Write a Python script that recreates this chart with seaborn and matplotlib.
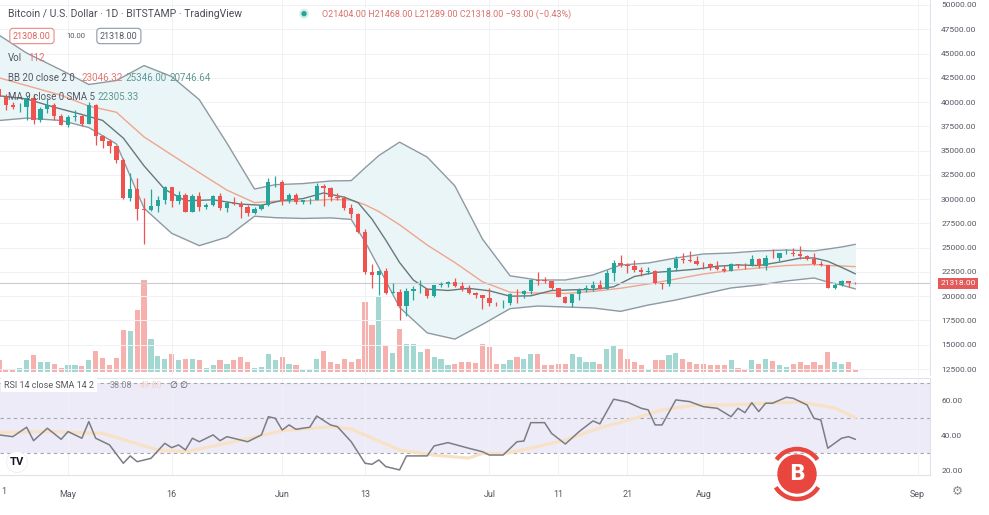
import numpy as np
import pandas as pd
import matplotlib.pyplot as plt
import matplotlib.transforms as mtransforms
import matplotlib.patheffects as pe
from matplotlib.patches import Circle, Arc
from matplotlib.ticker import FormatStrFormatter
import seaborn as sns

# BTC/USD daily candles (BITSTAMP), 21 Apr - 23 Aug 2022
dates = pd.date_range('2022-04-21', '2022-08-23', freq='D')

opens = [41370, 40480, 39710, 39450, 39470, 40440, 38120, 39240, 39740, 38600,
         37640, 38470, 38530, 37720, 39690, 36550, 36010, 35470, 34060, 30100,
         31020, 28940, 28900, 29290, 29860, 31300, 29850, 30420, 28720, 30290,
         29170, 29430, 30290, 29100, 29650, 29540, 29200, 28620, 29020, 29440,
         31730, 31790, 29800, 30450, 29700, 29860, 29910, 31370, 31120, 30200,
         30110, 29090, 28420, 26570, 22490, 22210, 22570, 20380, 20470, 19000,
         20550, 20700, 20720, 19990, 21110, 21230, 21500, 21030, 20730, 20280,
         20100, 19780, 19300, 19250, 19300, 20220, 20190, 20550, 21640, 21600,
         21580, 20850, 19960, 19330, 20230, 20590, 20830, 21200, 20790, 22420,
         23400, 23230, 23160, 22680, 22450, 22580, 21310, 21250, 22950, 23840,
         23780, 23640, 23300, 23270, 22990, 22820, 22620, 23310, 23260, 23170,
         23810, 23160, 23950, 23940, 24400, 24440, 24300, 24100, 23850, 23340,
         23190, 20830, 21140, 21520, 21404]
highs = [42970, 40800, 39990, 39900, 40600, 40800, 39450, 40350, 39900, 38800,
         38680, 39150, 38640, 40000, 39850, 36650, 36150, 35500, 34250, 32650,
         32200, 30100, 31000, 30300, 31400, 31300, 30800, 30650, 30500, 30700,
         29600, 30450, 30650, 29800, 30200, 29850, 29350, 29150, 29500, 32200,
         32400, 31950, 30650, 30650, 29950, 30150, 31700, 31570, 31300, 30650,
         30350, 29450, 28550, 26880, 23350, 22750, 22950, 21350, 20700, 20800,
         21050, 21700, 20860, 21200, 21500, 21600, 21850, 21500, 21200, 20400,
         20150, 20850, 19450, 19650, 20350, 20700, 20650, 21800, 22450, 21950,
         21600, 20850, 20050, 20250, 20880, 21200, 21550, 21650, 22700, 23750,
         24250, 23400, 23750, 22990, 23000, 22650, 21350, 23050, 24150, 24400,
         24650, 24150, 23500, 23450, 23650, 23200, 23450, 23350, 23450, 24200,
         23900, 24200, 24900, 24450, 24900, 25000, 25200, 24250, 24450, 23600,
         23200, 21350, 21700, 21550, 21468]
lows = [39770, 39200, 39300, 39000, 38200, 37700, 37900, 38900, 38200, 37600,
        37400, 38050, 37500, 37700, 35600, 35300, 34800, 33700, 30000, 29800,
        27900, 25400, 28800, 28700, 29500, 29200, 29500, 28700, 28700, 28800,
        28950, 29250, 28850, 28650, 29400, 28050, 28250, 28500, 28850, 29300,
        31200, 29400, 29600, 29500, 29450, 29500, 29880, 29250, 29850, 29950,
        28850, 28100, 26550, 22300, 20850, 20100, 20250, 20300, 17600, 18000,
        19650, 20350, 19800, 19900, 20900, 20950, 20950, 20550, 20200, 19850,
        18650, 19000, 19000, 18800, 19050, 19300, 19800, 20250, 21200, 21350,
        20650, 19900, 19250, 18900, 19650, 20400, 20500, 20750, 20760, 21600,
        23000, 22350, 22500, 22100, 22300, 21300, 20750, 21050, 22600, 23450,
        23550, 23250, 22850, 22650, 22700, 22450, 22600, 22950, 22850, 23150,
        22900, 22700, 23900, 23600, 24300, 24150, 23800, 23700, 23200, 23100,
        20800, 20750, 21050, 20900, 21289]
closes = [40480, 39710, 39450, 39470, 40440, 38120, 39240, 39740, 38600, 37640,
          38470, 38530, 37720, 39690, 36550, 36010, 35470, 34060, 30100, 31020,
          28940, 28900, 29290, 29860, 31300, 29850, 30420, 28720, 30290, 29170,
          29430, 30290, 29100, 29650, 29540, 29200, 28620, 29020, 29440, 31730,
          31790, 29800, 30450, 29700, 29860, 29910, 31370, 31120, 30200, 30110,
          29090, 28420, 26570, 22490, 22210, 22570, 20380, 20470, 19000, 20550,
          20700, 20720, 19990, 21110, 21230, 21500, 21030, 20730, 20280, 20100,
          19780, 19300, 19250, 19300, 20220, 20190, 20550, 21640, 21600, 21580,
          20850, 19960, 19330, 20230, 20590, 20830, 21200, 20790, 22420, 23400,
          23230, 23160, 22680, 22450, 22580, 21310, 21250, 22950, 23840, 23780,
          23640, 23300, 23270, 22990, 22820, 22620, 23310, 23260, 23170, 23810,
          23160, 23950, 23940, 24400, 24440, 24300, 24100, 23850, 23340, 23190,
          20830, 21140, 21520, 21400, 21318]
volumes = [490, 140, 112, 168, 518, 700, 420, 420, 350, 182,
           280, 308, 252, 518, 868, 588, 308, 602, 1778, 1722,
           2590, 3850, 1400, 658, 560, 770, 490, 560, 560, 490,
           168, 308, 490, 350, 490, 630, 420, 168, 210, 770,
           490, 630, 350, 280, 112, 140, 560, 868, 420, 350,
           532, 420, 560, 2940, 1960, 3150, 1120, 798, 1820, 1190,
           1190, 840, 980, 630, 560, 280, 350, 420, 420, 392,
           1190, 1050, 350, 350, 490, 630, 560, 770, 770, 308,
           280, 350, 350, 770, 630, 420, 420, 350, 980, 1092,
           980, 560, 420, 280, 140, 490, 490, 700, 812, 560,
           420, 350, 350, 308, 280, 308, 490, 168, 140, 490,
           350, 532, 448, 280, 210, 350, 420, 280, 420, 280,
           840, 420, 350, 420, 112]

# Bollinger bands (20, 2) read at anchor days (day 0 = 21 Apr)
bb_days = [0, 4, 9, 13, 17, 21, 25, 29, 33, 37, 40, 44, 48, 51, 53, 55, 58, 62, 66,
           70, 74, 78, 82, 86, 90, 94, 98, 102, 106, 110, 114, 118, 120, 122, 124]
bb_upper = [46900, 45050, 43300, 41810, 42220, 43760, 42630, 40250, 35770, 31040,
            31490, 31600, 31870, 31910, 33220, 34490, 35870, 34330, 31370, 25890,
            22100, 21670, 21670, 22190, 23210, 23420, 23940, 24350, 24450, 24660,
            24760, 24660, 24860, 25070, 25346]
bb_basis = [42500, 41700, 40700, 39590, 38950, 36410, 34560, 32730, 30930, 29640,
            29790, 29800, 29970, 29910, 29420, 28720, 27360, 25270, 23470, 21490,
            20410, 20330, 20280, 20490, 20820, 21260, 21770, 22290, 22650, 22910,
            23160, 23270, 23160, 23110, 23046]
bb_lower = [38100, 38350, 38100, 37380, 35680, 29060, 26480, 25210, 26080, 28240,
            28090, 28010, 28070, 27910, 25620, 22960, 18850, 16220, 15580, 17100,
            18720, 18990, 18890, 18790, 18440, 19090, 19610, 20230, 20850, 21150,
            21570, 21880, 21460, 21150, 20747]

# MA 9
ma_days = [0, 4, 8, 12, 15, 18, 21, 24, 27, 31, 35, 38, 41, 44, 47, 50, 52, 54, 56, 58,
           60, 62, 65, 68, 71, 74, 77, 80, 83, 86, 89, 92, 95, 98, 101, 104, 107,
           110, 113, 116, 118, 120, 122, 124]
ma_vals = [40650, 40320, 39470, 38720, 38110, 36290, 33430, 31010, 29830, 29930,
           29490, 29370, 29870, 30050, 30640, 30200, 29630, 27950, 25780, 23470,
           21660, 20730, 20590, 20810, 20560, 20000, 20040, 20580, 20660, 20690,
           20970, 22030, 22450, 22610, 22790, 23090, 23220, 23160, 23510, 23920,
           23940, 23600, 22970, 22305]

# RSI 14 and its SMA 14
rsi_days = [0, 2, 4, 5, 7, 9, 10, 12, 13, 14, 16, 18, 19, 20, 22, 24, 25, 26, 27, 28,
            29, 31, 32, 33, 36, 38, 39, 40, 41, 42, 43, 45, 46, 48, 49, 51, 53, 54, 55, 56,
            58, 59, 62, 63, 65, 68, 70, 71, 73, 75, 76, 77, 79, 80, 82, 84, 86, 87, 89, 91,
            93, 94, 95, 96, 98, 100, 102, 104, 106, 107, 108, 109, 110, 111, 112, 114, 115,
            117, 118, 119, 120, 122, 123, 124]
rsi_vals = [40.6, 39.6, 45.0, 37.3, 44.4, 38.1, 42.5, 38.7, 48.2, 38.7,
            34.9, 24.4, 28.6, 25.3, 27.2, 35.8, 33.3, 34.9, 32.0, 38.7,
            36.7, 40.6, 37.3, 39.6, 36.7, 40.6, 51.0, 50.1, 43.4, 46.3,
            43.8, 45.0, 51.4, 46.3, 45.3, 36.7, 24.4, 23.8, 26.3, 22.5,
            20.6, 28.6, 28.6, 34.3, 36.2, 33.0, 31.0, 29.1, 29.1, 36.7,
            37.1, 47.6, 47.6, 41.5, 35.4, 42.5, 48.6, 46.9, 61.0, 59.3,
            55.8, 54.9, 46.3, 46.3, 60.6, 59.6, 56.7, 55.8, 51.0, 55.8,
            53.3, 59.0, 53.9, 58.7, 58.7, 62.1, 61.5, 57.7, 50.1, 49.1,
            33.0, 38.7, 39.6, 38.08]
rsi_ma_days = [0, 7, 15, 23, 27, 34, 41, 48, 51, 58, 63, 68, 70, 73, 77, 82, 87, 92,
               96, 101, 106, 111, 116, 121, 124]
rsi_ma_vals = [42.0, 42.5, 41.5, 32.0, 31.0, 36.7, 43.0, 45.3, 44.0, 32.0, 29.0, 27.4,
               30.0, 30.0, 33.0, 37.7, 44.6, 50.0, 54.9, 57.7, 57.7, 58.7, 59.4, 56.0, 50.5]

tick_days = [10, 25, 41, 53, 71, 81, 91, 102, 133]
tick_labels = ['May', '16', 'Jun', '13', 'Jul', '11', '21', 'Aug', 'Sep']
last_price = 21318

# style
sns.set_theme(style='white')
plt.rcParams['font.family'] = ['Roboto', 'DejaVu Sans']
UP, DOWN = '#26a69a', '#ef5350'
TXT = '#555861'
GRID = '#f0f2f6'
SEP = '#e0e3eb'

W, H = 989, 515
fig = plt.figure(figsize=(W / 100, H / 100), dpi=100)


def fx(px):
    return px / W


def fy(py):
    return 1 - py / H


ax = fig.add_axes([0, fy(375), fx(930), 375 / H])
rsi_ax = fig.add_axes([0, fy(475), fx(930), (475 - 378) / H], sharex=ax)
vol_ax = ax.twinx()
ax.set_zorder(vol_ax.get_zorder() + 1)
ax.patch.set_visible(False)

day = np.asarray((dates - dates[0]).days)
o, h, l, c = map(np.array, (opens, highs, lows, closes))
up = c >= o

# ---- volume ----
vol_ax.bar(day, volumes, width=0.75, color=np.where(up, '#a2d8d1', '#f6b1ae'), linewidth=0)
vol_ax.set_ylim(-126, 15624)
vol_ax.set_yticks([])
for s in vol_ax.spines.values():
    s.set_visible(False)

# ---- bollinger bands + MA ----
ax.fill_between(bb_days, bb_lower, bb_upper, color='#eaf5f8', linewidth=0, zorder=1)
sns.lineplot(x=bb_days, y=bb_upper, ax=ax, color='#8e9aa2', linewidth=1.0, zorder=2)
sns.lineplot(x=bb_days, y=bb_lower, ax=ax, color='#8e9aa2', linewidth=1.0, zorder=2)
sns.lineplot(x=bb_days, y=bb_basis, ax=ax, color='#f0a58c', linewidth=1.0, zorder=2)
sns.lineplot(x=ma_days, y=ma_vals, ax=ax, color='#667a7a', linewidth=1.0, zorder=2)

# ---- candles ----
cols = np.where(up, UP, DOWN)
ax.vlines(day, l, h, colors=cols, linewidth=0.9, zorder=4)
ax.bar(day, np.maximum(np.abs(c - o), 45), bottom=np.minimum(o, c), width=0.62,
       color=cols, linewidth=0, zorder=5)

ax.axhline(last_price, color='#c9cbd1', linewidth=0.8, zorder=3)

ax.set_xlim(0.145, 134.8)
ax.set_ylim(11883, 50515)
ax.set_yticks(np.arange(12500, 50001, 2500))
ax.yaxis.set_major_formatter(FormatStrFormatter('%.2f'))
ax.yaxis.tick_right()
ax.tick_params(axis='y', length=0, pad=8, labelsize=6, labelcolor=TXT)
ax.set_xticks(tick_days)
ax.tick_params(axis='x', length=0, labelbottom=False)
ax.grid(True, color=GRID, linewidth=0.7)
ax.set_xlabel('')
ax.set_ylabel('')
for k in ('top', 'left', 'bottom'):
    ax.spines[k].set_visible(False)
ax.spines['right'].set_color(SEP)
ax.spines['right'].set_linewidth(0.8)

# price tag
tr = mtransforms.blended_transform_factory(ax.transAxes, ax.transData)
ax.text(1.011, last_price, '21318.00', transform=tr, color='white', fontsize=6,
        va='center', ha='left', clip_on=False, zorder=10,
        bbox=dict(boxstyle='square,pad=0.3', fc='#e25a5a', ec='none'))

# ---- RSI ----
rsi_ax.axhspan(30, 70, color='#eeebf8', linewidth=0, zorder=0)
for lvl in (70, 50, 30):
    rsi_ax.axhline(lvl, color='#a4a6ae', linewidth=0.8, linestyle=(0, (3, 3)), zorder=1)
sns.lineplot(x=rsi_ma_days, y=rsi_ma_vals, ax=rsi_ax, color='#f8e2c6', linewidth=2.3, zorder=2)
sns.lineplot(x=rsi_days, y=rsi_vals, ax=rsi_ax, color='#7b7d84', linewidth=1.1, zorder=3)
rsi_ax.set_ylim(17.7, 73.1)
rsi_ax.set_yticks([20, 40, 60])
rsi_ax.yaxis.set_major_formatter(FormatStrFormatter('%.2f'))
rsi_ax.yaxis.tick_right()
rsi_ax.tick_params(axis='y', length=0, pad=8, labelsize=6, labelcolor=TXT)
rsi_ax.set_xticks(tick_days)
rsi_ax.set_xticklabels(tick_labels)
rsi_ax.tick_params(axis='x', length=0, pad=11, labelsize=6.5, labelcolor=TXT)
rsi_ax.grid(True, axis='x', color=GRID, linewidth=0.7)
rsi_ax.set_xlabel('')
rsi_ax.set_ylabel('')
rsi_ax.spines['left'].set_visible(False)
for k in ('top', 'bottom', 'right'):
    rsi_ax.spines[k].set_color(SEP)
    rsi_ax.spines[k].set_linewidth(0.8)
rsi_ax.set_xlim(0.145, 134.8)
# first date label ("21" Apr) is cut by the left edge, only its "1" shows
fig.text(fx(1), fy(492), '1', ha='left', va='center', fontsize=6.5, color=TXT)

# ---- legends ----
fs = 7
fig.text(fx(8), fy(14), 'Bitcoin / U.S. Dollar · 1D · BITSTAMP · TradingView',
         fontsize=7.5, color='#4a4d57', va='center')
fig.text(fx(301), fy(14), '●', fontsize=5, color=UP, va='center',
         path_effects=[pe.withStroke(linewidth=3, foreground='#cfeee9')])
fig.text(fx(322), fy(14), 'O21404.00 H21468.00 L21289.00 C21318.00 −93.00 (−0.43%)',
         fontsize=6.5, color='#d9716b', va='center')

fig.text(fx(13), fy(36), '21308.00', fontsize=6.5, color='#e0605b', va='center',
         bbox=dict(boxstyle='round,pad=0.35', fc='white', ec='#e98a86', lw=0.8))
fig.text(fx(66), fy(36), '10.00', fontsize=5.5, color=TXT, va='center')
fig.text(fx(100), fy(36), '21318.00', fontsize=6.5, color=TXT, va='center',
         bbox=dict(boxstyle='round,pad=0.35', fc='white', ec='#8d98a8', lw=0.8))

fig.text(fx(8), fy(58), 'Vol', fontsize=fs, color=TXT, va='center')
fig.text(fx(28), fy(58), '112', fontsize=fs, color='#e0706a', va='center')

fig.text(fx(8), fy(78), 'BB 20 close 2 0', fontsize=fs, color=TXT, va='center')
fig.text(fx(82), fy(78), '23046.32', fontsize=fs, color='#e3776d', va='center')
fig.text(fx(126), fy(78), '25346.00', fontsize=fs, color='#5f9893', va='center')
fig.text(fx(170), fy(78), '20746.64', fontsize=fs, color='#5f9893', va='center')

fig.text(fx(8), fy(97), 'MA 9 close 0 SMA 5', fontsize=fs, color=TXT, va='center')
fig.text(fx(97), fy(97), '22305.33', fontsize=fs, color='#5f9893', va='center')

fig.text(fx(4), fy(385), 'RSI 14 close SMA 14 2', fontsize=6.5, color=TXT, va='center',
         bbox=dict(boxstyle='square,pad=0.3', fc='white', ec='none'))
fig.text(fx(110), fy(385), '38.08', fontsize=6.5, color='#8a8c93', va='center')
fig.text(fx(140), fy(385), '49.80', fontsize=6.5, color='#f4d2c6', va='center')
fig.text(fx(170), fy(385), '∅ ∅', fontsize=6.5, color=TXT, va='center')

# TradingView mark and settings gear
fig.text(fx(17), fy(462), 'TV', fontsize=8, fontweight='bold', color='#131722',
         ha='center', va='center',
         bbox=dict(boxstyle='circle,pad=0.3', fc='white', ec='#eeeeee', lw=0.6))
fig.text(fx(957), fy(491), '⚙', fontsize=9, color='#8a8c93', ha='center', va='center')

# red bitcoin watermark
wm = fig.add_axes([fx(797 - 30), fy(474 + 30), fx(60), 60 / H])
wm.set_xlim(-30, 30)
wm.set_ylim(-30, 30)
wm.set_aspect('equal')
wm.axis('off')
wm.add_patch(Circle((0, 0), 19, color='#e8463f'))
wm.add_patch(Arc((0, 0), 50, 50, theta1=35, theta2=145, color='#e8463f', linewidth=3.2))
wm.add_patch(Arc((0, 0), 50, 50, theta1=212, theta2=328, color='#e8463f', linewidth=3.2))
wm.text(0, 0, 'B', fontsize=15, fontweight='bold', color='white', ha='center',
        va='center', family='DejaVu Sans')

fig.savefig('out.png', dpi=100)
